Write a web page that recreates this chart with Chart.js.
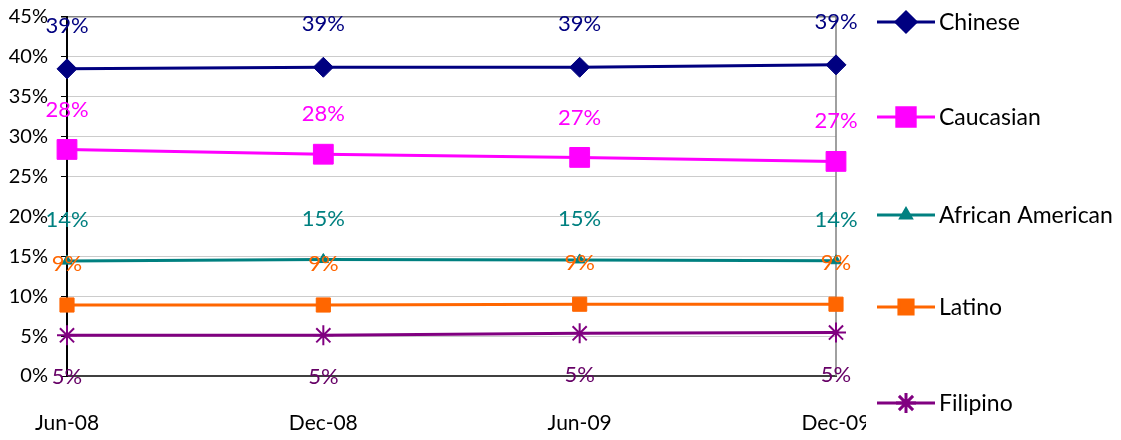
<!DOCTYPE html>
<html><head><meta charset="utf-8">
<script src="https://cdn.jsdelivr.net/npm/chart.js@4/dist/chart.umd.min.js"></script>
<style>html,body{margin:0;padding:0;background:#fff}#wrap{width:1121px;height:440px}</style>
</head><body><div id="wrap"><canvas id="c" width="1121" height="440"></canvas></div>
<script>
const categories = ['Jun-08','Dec-08','Jun-09','Dec-09'];
const chinese = [38.5, 38.7, 38.7, 39.0];
const caucasian = [28.4, 27.8, 27.4, 26.9];
const africanAmerican = [14.4, 14.6, 14.55, 14.45];
const latino = [8.9, 8.9, 9.0, 9.0];
const filipino = [5.1, 5.1, 5.35, 5.45];
const seriesNames = ['Chinese','Caucasian','African American','Latino','Filipino'];
const yTicks = [0,5,10,15,20,25,30,35,40,45];

const FONT = 'Lato, "Open Sans", sans-serif';
const styles = [
  {color:'#000080', label:'#000080', pointStyle:'rectRot', r:10, off:-43},
  {color:'#FF00FF', label:'#FF00FF', pointStyle:'rect', r:14, off:-40},
  {color:'#008080', label:'#008080', pointStyle:'triangle', r:6, off:-41},
  {color:'#FF6600', label:'#FF6600', pointStyle:'rect', r:10, off:-41},
  {color:'#800080', label:'#660066', pointStyle:'star', r:10, off:42}
];
const values = [chinese, caucasian, africanAmerican, latino, filipino];

const datasets = values.map((v,i)=>({
  label: seriesNames[i], data: v,
  borderColor: styles[i].color, backgroundColor: styles[i].color,
  borderWidth: 3, pointStyle: styles[i].pointStyle, pointRadius: styles[i].r,
  pointHoverRadius: styles[i].r, pointBorderWidth: styles[i].pointStyle==='star'?2:1,
  pointBorderColor: styles[i].color, pointBackgroundColor: styles[i].color,
  tension: 0, clip: false
}));

const labelsPlugin = {
  id:'dl',
  afterDatasetsDraw(chart){
    const ctx = chart.ctx;
    ctx.save();
    ctx.font = '22px ' + FONT;
    ctx.textAlign='center'; ctx.textBaseline='middle';
    chart.data.datasets.forEach((ds,i)=>{
      const meta = chart.getDatasetMeta(i);
      meta.data.forEach((pt,j)=>{
        ctx.fillStyle = styles[i].label;
        ctx.fillText(Math.round(ds.data[j])+'%', pt.x, pt.y + styles[i].off);
      });
    });
    ctx.restore();
  }
};

const framePlugin = {
  id:'frame',
  beforeDatasetsDraw(chart){
    const {ctx, chartArea:a} = chart;
    ctx.save();
    ctx.strokeStyle='#808080'; ctx.lineWidth=1.5;
    ctx.beginPath(); ctx.moveTo(a.right, a.top); ctx.lineTo(a.right, a.bottom); ctx.stroke();
    ctx.restore();
  },
  afterDraw(chart){
    const ctx = chart.ctx;
    ctx.save();
    ctx.fillStyle='#fff';
    ctx.fillRect(866, 380, 255, 60);
    const ys = [22, 117, 215, 307, 403];
    ctx.font = '23px ' + FONT;
    ctx.textBaseline='middle'; ctx.textAlign='left';
    chart.data.datasets.forEach((ds,i)=>{
      const y = ys[i];
      ctx.strokeStyle = styles[i].color; ctx.lineWidth=3;
      ctx.beginPath(); ctx.moveTo(877,y); ctx.lineTo(935,y); ctx.stroke();
      const r = styles[i].pointStyle==='rect' ? (i===1?13:10) : styles[i].r;
      ctx.fillStyle = styles[i].color;
      Chart.helpers.drawPoint(ctx, {pointStyle: styles[i].pointStyle, radius: r, borderWidth: styles[i].pointStyle==='star'?2:1, rotation:0}, 906, y);
      ctx.fillStyle='#000';
      ctx.fillText(ds.label, 939, y+1);
    });
    ctx.restore();
  }
};

new Chart(document.getElementById('c'), {
  type:'line',
  data:{labels:categories, datasets},
  options:{
    responsive:false, animation:false,
    layout:{padding:{top:17, right:285, left:0, bottom:0}},
    plugins:{legend:{display:false}, tooltip:{enabled:false}},
    scales:{
      x:{
        offset:false,
        grid:{display:false, drawTicks:false},
        border:{display:true, color:'#404040', width:2},
        ticks:{color:'#000', font:{family:FONT, size:21}, padding:35, maxRotation:0, autoSkip:false},
        afterFit(s){ s.height = 64; s.paddingLeft = 0; s.paddingRight = 0; }
      },
      y:{
        min:0, max:45,
        afterBuildTicks(s){ s.ticks = yTicks.map(v=>({value:v})); },
        grid:{color:(c)=> c.tick && c.tick.value===45 ? '#808080' : '#cccccc', lineWidth:(c)=> c.tick && c.tick.value===45 ? 1.5 : 1, tickColor:'#000', tickLength:6},
        border:{display:true, color:'#000', width:2},
        ticks:{color:'#000', font:{family:FONT, size:20}, padding:13, callback:(v)=>v+'%'},
        afterFit(s){ s.width = 67; s.paddingTop = 0; s.paddingBottom = 0; }
      }
    }
  },
  plugins:[labelsPlugin, framePlugin]
});
</script>
</body></html>
